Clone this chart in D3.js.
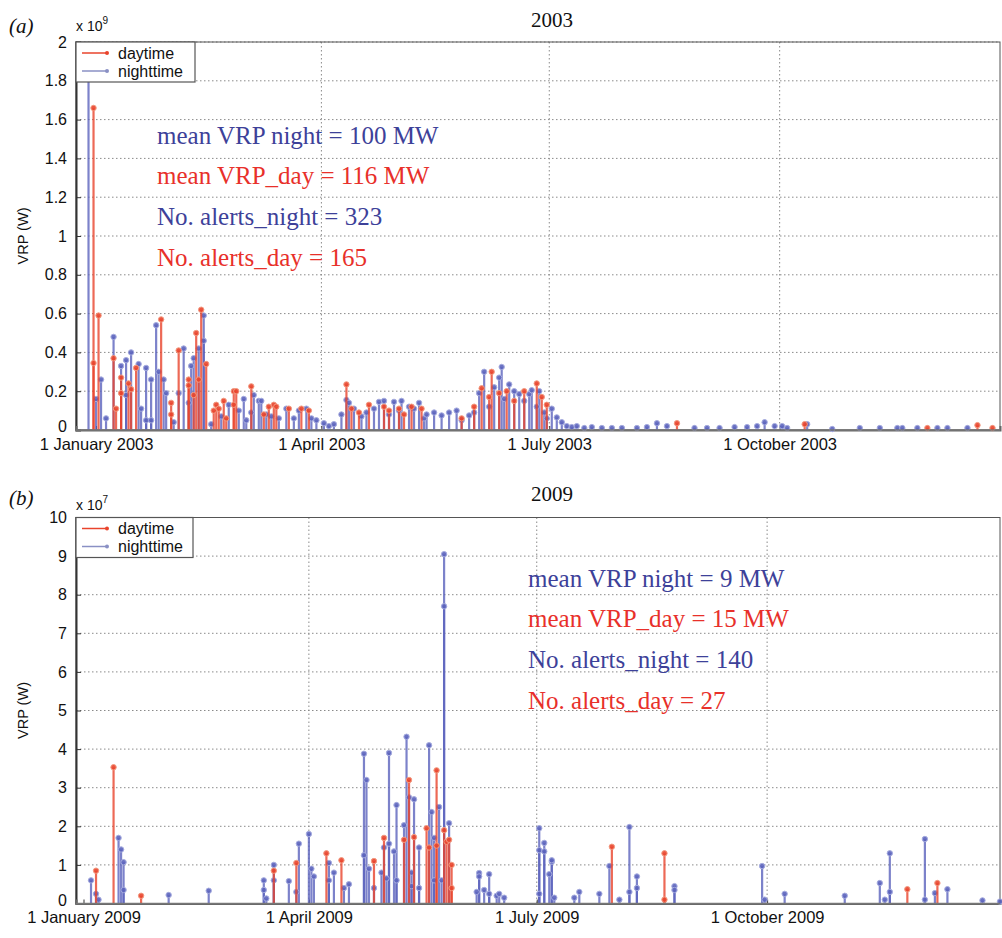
<!DOCTYPE html>
<html><head><meta charset="utf-8">
<script src="https://cdn.jsdelivr.net/npm/d3@7"></script>
<style>body{margin:0;background:#fff}</style></head>
<body><svg id="c" width="1002" height="938"></svg>
<script>
// ---------- DATA (day offset from 1 January of the year, VRP in units of the axis exponent) ----------
const night2003 = [[-3,1.82],[0,0.16],[2,0.26],[4,0.06],[7,0.48],[10,0.33],[12,0.36],[12,0.18],[14,0.40],[17,0.34],[18,0.11],[20,0.32],[20,0.05],[22,0.26],[22,0.05],[24,0.54],[25,0.30],[27,0.26],[28,0.19],[31,0.04],[33,0.19],[35,0.42],[37,0.14],[38,0.33],[39,0.37],[41,0.42],[43,0.59],[43,0.46],
[46,0.03],[50,0.07],[53,0.13],[57,0.10],[59,0.16],[60,0.05],[62,0.09],[63,0.18],[65,0.15],[66,0.15],[68,0.08],[70,0.07],[73,0.06],[76,0.11],[79,0.06],[81,0.10],[84,0.11],[86,0.06],[88,0.05],[91,0.035],[93,0.02],[95,0.03],[98,0.08],[100,0.155],[101,0.14],[103,0.11],[106,0.07],[108,0.09],[111,0.11],[113,0.145],[115,0.15],[117,0.08],[119,0.145],[121,0.10],[122,0.15],[125,0.12],[127,0.11],[129,0.14],[131,0.06],[132,0.08],[135,0.09],[138,0.075],[141,0.09],[144,0.10],[146,0.05],[149,0.075],[151,0.09],[153,0.19],[155,0.30],[157,0.12],[159,0.22],[161,0.27],[162,0.325],[163,0.16],[165,0.235],[167,0.20],[169,0.185],[171,0.15],[173,0.185],[174,0.205],[176,0.12],[177,0.20],[179,0.09],[180,0.06],[182,0.11],[184,0.065],[186,0.04],[188,0.02],[190,0.015],[192,0.02],[195,0.01],[198,0.015],[202,0.01],[206,0.01],[210,0.01],[216,0.01],[220,0.015],[224,0.035],[228,0.02],[239,0.01],[244,0.01],[249,0.01],[255,0.015],[260,0.015],[264,0.02],[267,0.04],[271,0.02],[274,0.02],[276,0.01],[284,0.03],[294,0.005],[305,0.01],[313,0.01],[320,0.01],[322,0.01],[328,0.01],[336,0.01],[340,0.01],[348,0.01]];
const day2003 = [[-1,1.66],[-1,0.345],[1,0.59],[7,0.37],[8,0.11],[10,0.27],[10,0.19],[13,0.24],[14,0.21],[16,0.32],[26,0.57],[30,0.14],[30,0.08],[33,0.41],[37,0.26],[37,0.23],[39,0.18],[40,0.50],[41,0.26],[42,0.62],[44,0.34],
[47,0.10],[48,0.13],[49,0.11],[51,0.15],[52,0.06],[55,0.20],[55,0.13],[56,0.20],[62,0.225],[67,0.08],[69,0.12],[71,0.13],[72,0.12],[77,0.11],[82,0.11],[85,0.10],[100,0.235],[102,0.11],[105,0.09],[109,0.13],[115,0.12],[117,0.10],[121,0.11],[123,0.08],[126,0.12],[130,0.11],[146,0.06],[151,0.12],[154,0.215],[157,0.17],[158,0.30],[161,0.19],[164,0.20],[167,0.15],[171,0.20],[176,0.24],[178,0.17],[180,0.13],[232,0.035],[283,0.03],[332,0.01],[352,0.025],[358,0.01]];
const night2009 = [[3,0.6],[5,0.25],[6,0.1],[14,1.7],[15,1.4],[16,1.07],[16,0.35],[34,0.22],[50,0.33],[72,0.6],[72,0.35],[73,0.13],[76,1.0],[76,0.6],[82,0.58],[86,1.55],[85,0.3],[90,1.8],[91,0.9],[92,0.7],[98,1.05],[98,0.6],[100,0.8],[104,0.4],[106,0.5],[112,3.88],[113,3.2],[112,1.25],[114,0.9],[116,0.4],[119,0.8],[120,1.45],[121,0.65],[122,3.9],[122,1.55],[124,1.35],[125,0.6],[125,2.55],[128,2.03],[129,4.32],[130,2.75],[132,2.7],[131,0.8],[131,0.45],[134,1.45],[134,0.4],[138,4.1],[139,2.37],[140,1.7],[140,0.6],[142,2.5],[143,0.6],[144,9.05],[144,7.7],[146,2.08],[157,0.3],[158,0.79],[158,0.7],[160,0.35],[162,0.76],[162,0.25],[165,0.2],[166,0.25],[168,0.15],[182,1.95],[182,1.38],[182,0.25],[184,1.57],[184,1.35],[186,0.76],[187,1.08],[187,1.12],[188,0.15],[196,0.15],[198,0.3],[206,0.25],[210,0.97],[214,0.1],[218,1.98],[218,0.3],[221,0.7],[221,0.4],[236,0.45],[236,0.35],[271,0.97],[272,0.1],[280,0.25],[304,0.2],[318,0.53],[320,0.1],[322,1.3],[322,0.3],[336,1.67],[336,0.1],[340,0.27],[345,0.37],[359,0.08],[366,0.05]];
const day2009 = [[5,0.85],[12,3.53],[23,0.2],[76,0.85],[85,1.05],[97,1.3],[103,1.12],[116,1.1],[120,1.7],[128,1.65],[130,3.2],[132,1.72],[137,1.95],[138,1.45],[141,3.45],[141,1.5],[144,1.9],[145,1.6],[146,1.65],[147,1.0],[147,0.4],[211,1.47],[232,1.3],[232,0.1],[329,0.37],[341,0.53]];

const yTicks2003 = [0,0.2,0.4,0.6,0.8,1,1.2,1.4,1.6,1.8,2];
const yTicks2009 = [0,1,2,3,4,5,6,7,8,9,10];
const xTickLabels2003 = ["1 January 2003","1 April 2003","1 July 2003","1 October 2003"];
const xTickLabels2009 = ["1 January 2009","1 April 2009","1 July 2009","1 October 2009"];
const stats2003 = ["mean VRP night = 100 MW","mean VRP_day = 116 MW","No. alerts_night = 323","No. alerts_day = 165"];
const stats2009 = ["mean VRP night = 9 MW","mean VRP_day = 15 MW","No. alerts_night = 140","No. alerts_day = 27"];
const legendLabels = ["daytime","nighttime"];

// ---------- DRAW ----------
const svg = d3.select("#c");
const RED = "#e9442c", BLUE = "#5b63bd", TXTBLUE = "#3d4199", TXTRED = "#e8302a";
const SANS = "Arial, 'Liberation Sans', sans-serif";
const SERIF = "'Liberation Serif','Times New Roman',serif";

function panel(o){
  const g = svg.append("g");
  const x = d3.scaleTime().domain(o.xDomain).range([76,1000]);
  const y = d3.scaleLinear().domain([0,o.yMax]).range([o.bottom,o.top]);
  const tickDates = [0,3,6,9].map(m=>new Date(o.year,m,1));
  // grid
  g.append("g").selectAll("line").data(o.yTicks.slice(1)).join("line")
    .attr("x1",76).attr("x2",1000).attr("y1",d=>y(d)).attr("y2",d=>y(d))
    .attr("stroke","#8a8a8a").attr("stroke-width",1).attr("stroke-dasharray","1.5,2.5");
  g.append("g").selectAll("line").data(tickDates.slice(1)).join("line")
    .attr("x1",d=>x(d)).attr("x2",d=>x(d)).attr("y1",o.top).attr("y2",o.bottom)
    .attr("stroke","#8a8a8a").attr("stroke-width",1).attr("stroke-dasharray","1.5,2.5");
  // frame
  g.append("rect").attr("x",76).attr("y",o.top).attr("width",924).attr("height",o.bottom-o.top)
    .attr("fill","none").attr("stroke","#555").attr("stroke-width",1);
  // y axis
  const ya = d3.axisLeft(y).tickValues(o.yTicks).tickSize(-5).tickPadding(9)
    .tickFormat(d=>String(+d.toFixed(1)));
  const yg = g.append("g").attr("transform","translate(76,0)").call(ya);
  yg.select(".domain").attr("stroke","#333").attr("stroke-width",2);
  yg.selectAll(".tick line").attr("stroke","#333");
  yg.selectAll("text").attr("font-family",SANS).attr("font-size",16).attr("fill","#111")
    .attr("dy",(d)=> d===0 ? "0.1em" : "0.32em");
  // x axis
  const xa = d3.axisBottom(x).tickValues(tickDates).tickSize(-4).tickPadding(8)
    .tickFormat((d,i)=>o.xLabels[i]);
  const xg = g.append("g").attr("transform",`translate(0,${o.bottom})`).call(xa);
  xg.select(".domain").attr("stroke","#666").attr("stroke-width",2);
  xg.selectAll(".tick line").attr("stroke","#333");
  xg.selectAll("text").attr("font-family",SANS).attr("font-size",16.5).attr("fill","#111");
  // stems
  function stems(data,color,edge){
    const dd = data.map(([d,v])=>({t:new Date(o.year,0,1+d),v}));
    const s = g.append("g");
    s.selectAll("line").data(dd).join("line")
      .attr("x1",d=>x(d.t)).attr("x2",d=>x(d.t)).attr("y1",y(0)).attr("y2",d=>y(d.v))
      .attr("stroke",color).attr("stroke-width",2.2).attr("stroke-opacity",0.8);
    s.selectAll("circle").data(dd).join("circle")
      .attr("cx",d=>x(d.t)).attr("cy",d=>y(d.v)).attr("r",2.7)
      .attr("fill",color).attr("stroke",edge).attr("stroke-width",1).attr("fill-opacity",0.9);
  }
  stems(o.night,BLUE,"#a6acdf");
  stems(o.day,RED,"#f39a80");
  // baseline
  g.append("line").attr("x1",76).attr("x2",1000).attr("y1",y(0)).attr("y2",y(0)).attr("stroke","#777").attr("stroke-width",1.5);
  // legend
  const lg = g.append("g").attr("transform",`translate(76,${o.top})`);
  lg.append("rect").attr("width",o.legW).attr("height",40).attr("fill","#fff").attr("stroke","#555").attr("stroke-width",1.2);
  [[RED,"#e9442c"],["#8a90c4","#8a90c4"]].forEach(([c,m],i)=>{
    const yy = 11 + i*18;
    lg.append("line").attr("x1",6).attr("x2",31).attr("y1",yy).attr("y2",yy).attr("stroke",c).attr("stroke-width",1.5);
    lg.append("circle").attr("cx",31).attr("cy",yy).attr("r",2).attr("fill",m);
    lg.append("text").attr("x",42).attr("y",yy+5.5).text(legendLabels[i])
      .attr("font-family",SANS).attr("font-size",16).attr("fill","#111");
  });
  // exponent
  const ex = g.append("text").attr("x",76).attr("y",o.top-o.expOff).attr("font-family",SANS).attr("font-size",14).attr("fill","#111");
  ex.append("tspan").text("x 10");
  ex.append("tspan").text(o.exp).attr("font-size",10).attr("dy",-7);
  // panel letter + title
  g.append("text").attr("x",9).attr("y",o.top-o.letOff).text(o.letter)
    .attr("font-family",SERIF).attr("font-style","italic").attr("font-size",21).attr("fill","#111");
  g.append("text").attr("x",552).attr("y",o.top-o.titOff).attr("text-anchor","middle").text(o.title)
    .attr("font-family",SERIF).attr("font-size",21).attr("fill","#111");
  // y label
  g.append("text").attr("transform",`translate(28,${(o.top+o.bottom)/2}) rotate(-90)`).attr("text-anchor","middle")
    .text("VRP (W)").attr("font-family",SANS).attr("font-size",14.5).attr("fill","#111");
  // stats
  o.stats.forEach((t,i)=>{
    g.append("text").attr("x",o.statX).attr("y",o.statY+i*40.7).text(t)
      .attr("font-family",SERIF).attr("font-size",25)
      .attr("fill", i%2===0 ? TXTBLUE : TXTRED);
  });
}

panel({year:2003, xDomain:[new Date(2002,11,24),new Date(2003,11,28)], top:42, bottom:430, yMax:2,
  yTicks:yTicks2003, xLabels:xTickLabels2003, night:night2003, day:day2003, letter:"(a)", title:"2003", exp:"9",
  stats:stats2003, statX:157, statY:143.5, legW:119, expOff:11, letOff:9, titOff:15});
panel({year:2009, xDomain:[new Date(2008,11,29),new Date(2010,0,2)], top:517.5, bottom:903.5, yMax:10,
  yTicks:yTicks2009, xLabels:xTickLabels2009, night:night2009, day:day2009, letter:"(b)", title:"2009", exp:"7",
  stats:stats2009, statX:528, statY:586.5, legW:117, expOff:8, letOff:13, titOff:17});
</script></body></html>
